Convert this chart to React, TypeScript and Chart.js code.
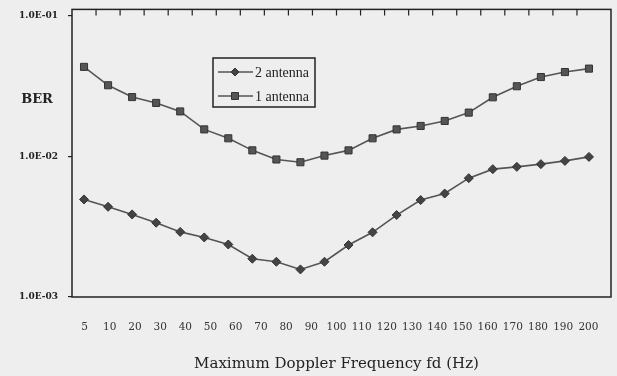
import React, { useEffect, useRef } from "react";
import { Chart, registerables } from "chart.js";

Chart.register(...registerables);

// 22 plotted samples (the figure has one more point than tick labels)
const pointIds = ["p1","p2","p3","p4","p5","p6","p7","p8","p9","p10","p11","p12","p13","p14","p15","p16","p17","p18","p19","p20","p21","p22"];
const tickLabels = ["5","10","20","30","40","50","60","70","80","90","100","110","120","130","140","150","160","170","180","190","200"];
const ber2Antenna = [0.00493,0.00437,0.00386,0.00337,0.00290,0.00265,0.00236,0.00187,0.00178,0.00157,0.00178,0.00234,0.00288,0.00382,0.00488,0.00543,0.00698,0.00809,0.00840,0.00878,0.00926,0.00989];
const ber1Antenna = [0.0431,0.0319,0.0263,0.0239,0.0208,0.0155,0.0134,0.0110,0.00948,0.00906,0.0101,0.0110,0.0134,0.0155,0.0164,0.0178,0.0204,0.0262,0.0314,0.0365,0.0396,0.0419];
const yTicks = [0.001, 0.01, 0.1];
const seriesNames = ["2 antenna", "1 antenna"];

const formatE = (v: number) => {
  const [m, e] = v.toExponential(1).split("e");
  const n = parseInt(e, 10);
  return m + "E" + (n < 0 ? "-" : "+") + String(Math.abs(n)).padStart(2, "0");
};

const BG = "#eeeeee";
const INK = "#222222";

const decorPlugin = {
  id: "decor",
  beforeDraw(chart: any) {
    const { ctx, width, height } = chart;
    ctx.save();
    ctx.fillStyle = BG;
    ctx.fillRect(0, 0, width, height);
    ctx.restore();
  },
  afterDraw(chart: any) {
    const { ctx, chartArea } = chart;
    const xs = chart.scales.x;
    ctx.save();
    // plot box
    ctx.strokeStyle = INK;
    ctx.lineWidth = 1.5;
    const top = chartArea.top - 6;
    const right = chartArea.right + 10;
    ctx.strokeRect(chartArea.left, top, right - chartArea.left, chartArea.bottom - top);
    // category tick marks along the top edge
    ctx.lineWidth = 1.2;
    ctx.beginPath();
    for (let i = 1; i < pointIds.length; i++) {
      const x = (xs.getPixelForValue(i - 1) + xs.getPixelForValue(i)) / 2;
      ctx.moveTo(x, top);
      ctx.lineTo(x, top + 6);
    }
    ctx.stroke();
    // BER label
    ctx.fillStyle = INK;
    ctx.font = "bold 13px 'DejaVu Serif'";
    ctx.textAlign = "center";
    ctx.textBaseline = "middle";
    ctx.fillText("BER", 37, 100);
    // legend
    const lx = 213, ly = 58, lw = 102, lh = 49;
    ctx.fillStyle = BG;
    ctx.fillRect(lx, ly, lw, lh);
    ctx.strokeStyle = INK;
    ctx.lineWidth = 1.5;
    ctx.strokeRect(lx, ly, lw, lh);
    chart.data.datasets.forEach((ds: any, i: number) => {
      const cy = ly + 14 + i * 24;
      ctx.strokeStyle = ds.borderColor;
      ctx.lineWidth = ds.borderWidth;
      ctx.beginPath();
      ctx.moveTo(lx + 5, cy);
      ctx.lineTo(lx + 40, cy);
      ctx.stroke();
      ctx.fillStyle = ds.pointBackgroundColor;
      ctx.strokeStyle = ds.pointBorderColor;
      ctx.lineWidth = 1;
      ctx.beginPath();
      if (ds.pointStyle === "rect") {
        ctx.rect(lx + 22 - 3.5, cy - 3.5, 7, 7);
      } else {
        ctx.moveTo(lx + 22, cy - 4);
        ctx.lineTo(lx + 26, cy);
        ctx.lineTo(lx + 22, cy + 4);
        ctx.lineTo(lx + 18, cy);
        ctx.closePath();
      }
      ctx.fill();
      ctx.stroke();
      ctx.fillStyle = INK;
      ctx.font = "14px 'Liberation Serif'";
      ctx.textAlign = "left";
      ctx.textBaseline = "middle";
      ctx.fillText(ds.label, lx + 42, cy + 1);
    });
    ctx.restore();
  },
};

export default function App() {
  const ref = useRef<HTMLCanvasElement | null>(null);
  useEffect(() => {
    document.body.style.margin = "0";
    const canvas = ref.current;
    if (!canvas) return;
    const chart = new Chart(canvas, {
      type: "line",
      data: {
        labels: pointIds,
        datasets: [
          {
            label: seriesNames[0],
            data: ber2Antenna,
            xAxisID: "x",
            borderColor: "#555555",
            borderWidth: 1.6,
            pointStyle: "rectRot",
            pointRadius: 4.5,
            pointBackgroundColor: "#444444",
            pointBorderColor: "#333333",
            pointBorderWidth: 1,
            tension: 0,
          },
          {
            label: seriesNames[1],
            data: ber1Antenna,
            xAxisID: "x",
            borderColor: "#555555",
            borderWidth: 1.6,
            pointStyle: "rect",
            pointRadius: 5,
            pointBackgroundColor: "#555555",
            pointBorderColor: "#333333",
            pointBorderWidth: 1,
            tension: 0,
          },
        ],
      },
      options: {
        animation: false,
        responsive: false,
        layout: { padding: { top: 15, right: 16, bottom: 0, left: 0 } },
        plugins: { legend: { display: false }, tooltip: { enabled: false } },
        scales: {
          x: {
            type: "category",
            labels: pointIds,
            display: false,
            offset: true,
          },
          xl: {
            type: "category",
            labels: tickLabels,
            position: "bottom",
            offset: true,
            grid: { display: false },
            border: { display: false },
            ticks: {
              autoSkip: false,
              maxRotation: 0,
              padding: 16,
              color: "#333333",
              font: { family: "DejaVu Serif", size: 10.5 },
            },
            title: {
              display: true,
              text: "Maximum Doppler Frequency fd (Hz)",
              color: INK,
              font: { family: "DejaVu Serif", size: 15 },
              padding: { top: 0, bottom: 3 },
            },
            afterFit: (s: any) => {
              s.height = 79;
            },
          },
          y: {
            type: "logarithmic",
            min: 0.001,
            max: 0.1,
            afterBuildTicks: (s: any) => {
              s.ticks = yTicks.map((v) => ({ value: v }));
            },
            afterFit: (s: any) => {
              s.width = 72;
            },
            grid: { drawOnChartArea: false, tickLength: 4, color: INK, lineWidth: 1.2 },
            border: { display: false },
            ticks: {
              padding: 10,
              color: INK,
              font: { family: "DejaVu Serif", size: 9, weight: "bold" },
              callback: (v: any) => formatE(Number(v)),
            },
          },
        },
      },
      plugins: [decorPlugin],
    } as any);
    return () => chart.destroy();
  }, []);
  return (
    <div style={{ position: "absolute", left: 0, top: 0, width: 617, height: 376, background: BG }}>
      <canvas ref={ref} width={617} height={376} style={{ width: 617, height: 376, display: "block" }} />
    </div>
  );
}
